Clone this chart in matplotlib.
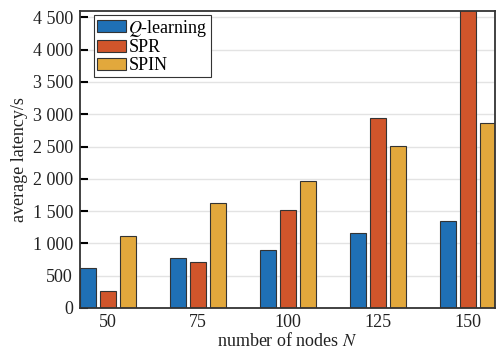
import numpy as np
import matplotlib.pyplot as plt
from matplotlib.ticker import FuncFormatter

nodes = [50, 75, 100, 125, 150]
q_learning = [620, 770, 900, 1165, 1350]
spr = [260, 705, 1520, 2940, 4800]
spin = [1120, 1620, 1960, 2515, 2870]

plt.rcParams['font.family'] = ['Liberation Serif', 'DejaVu Serif']
plt.rcParams['mathtext.fontset'] = 'stix'

fig = plt.figure(figsize=(4.96, 3.54), dpi=100)
ax = fig.add_axes([0.161, 0.130, 0.837, 0.839])

x = np.array(nodes, dtype=float)
w = 4.5
off = 5.5
edge = '#333333'
ax.bar(x - off, q_learning, w, color='#1f70b5', edgecolor=edge, linewidth=0.8, label='$Q$-learning', zorder=3)
ax.bar(x, spr, w, color='#d0552b', edgecolor=edge, linewidth=0.8, label='SPR', zorder=3)
ax.bar(x + off, spin, w, color='#e2a83c', edgecolor=edge, linewidth=0.8, label='SPIN', zorder=3)

ax.set_xlim(42.2, 157.5)
ax.set_ylim(0, 4600)
ax.set_xticks(nodes)
ax.set_yticks(range(0, 4501, 500))
ax.yaxis.set_major_formatter(FuncFormatter(lambda v, p: f'{int(v):,}'.replace(',', ' ')))
ax.grid(axis='y', color='#e3e3e3', linewidth=1.0, zorder=0)

ax.tick_params(direction='in', length=6, width=1.5, labelsize=13, color='black', labelcolor='#222222', zorder=5)
ax.tick_params(axis='y', pad=5)
ax.tick_params(axis='x', pad=4)
for s in ax.spines.values():
    s.set_linewidth(1.3)
    s.set_color('#333333')
    s.set_zorder(6)

ax.set_xlabel('number of nodes $N$', fontsize=13, labelpad=1, color='#222222')
ax.set_ylabel('average latency/s', fontsize=13, labelpad=3, color='#222222')

leg = ax.legend(loc='upper left', bbox_to_anchor=(0.034, 0.987), borderaxespad=0,
                fontsize=13, fancybox=False, framealpha=1, edgecolor='#333333',
                handlelength=1.65, handleheight=0.6, handletextpad=0.1, labelspacing=0.05,
                borderpad=0.15)
leg.get_frame().set_linewidth(0.8)

fig.savefig('out.png', dpi=100)
